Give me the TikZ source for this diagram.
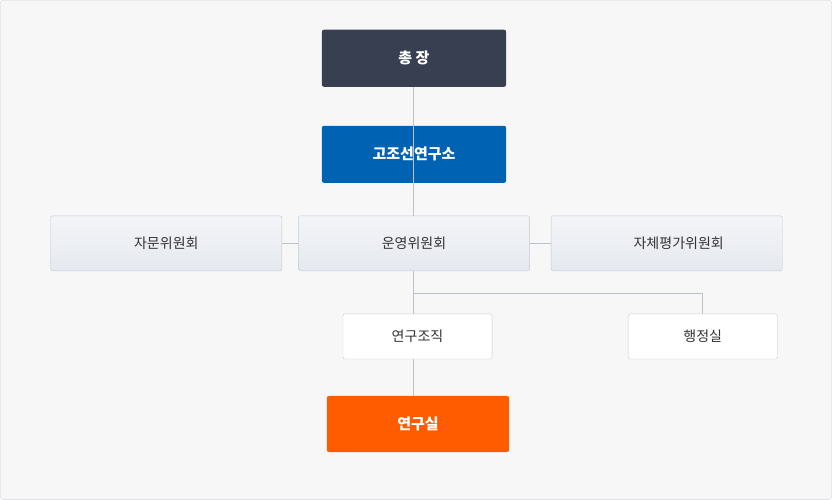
\documentclass[tikz,border=0pt]{standalone}
\usepackage{fontspec}
\setmainfont{Noto Sans CJK KR}
\usetikzlibrary{positioning}
\definecolor{headdark}{HTML}{373F51}
\definecolor{instblue}{HTML}{0062B2}
\definecolor{laborange}{HTML}{FF5C00}
\definecolor{boxline}{HTML}{C3C9D3}
\definecolor{linkgray}{HTML}{BCC2CC}
\definecolor{boxtop}{HTML}{F3F5F8}
\definecolor{boxbot}{HTML}{E5E8EE}
\definecolor{txtdark}{HTML}{333333}
\tikzset{
  topbox/.style={rounded corners=2pt, minimum width=184pt, minimum height=57pt, text=white, font=\bfseries\fontsize{15}{17}\selectfont},
  cmtbox/.style={draw=boxline, rounded corners=2pt, top color=boxtop, bottom color=boxbot, minimum width=231pt, minimum height=55pt, text=txtdark, font=\fontsize{14}{16}\selectfont},
  subbox/.style={draw=boxline, fill=white, rounded corners=2pt, minimum width=149pt, minimum height=45pt, text=txtdark, font=\fontsize{14}{16}\selectfont},
  link/.style={draw=linkgray, line width=0.8pt}
}
\begin{document}
\begin{tikzpicture}[x=1pt, y=-1pt]
  % background panel
  \draw[draw=linkgray!70, fill=gray!6, rounded corners=3pt] (0.5,0.5) rectangle (831.5,499.5);

  % top levels
  \node[topbox, fill=headdark] (head) at (414,58.5) {총 장};
  \node[topbox, fill=instblue] (inst) at (414,154.5) {고조선연구소};

  % committees
  \node[cmtbox] (advise) at (166.5,243.5) {자문위원회};
  \node[cmtbox] (manage) at (414,243.5) {운영위원회};
  \node[cmtbox] (selfeval) at (666.5,243.5) {\hspace*{24pt}자체평가위원회};

  % sub units
  \node[subbox] (research) at (417.5,336.5) {연구조직};
  \node[subbox] (admin) at (702.5,336.5) {행정실};
  \node[topbox, fill=laborange, minimum width=182pt, minimum height=56pt] (lab) at (418,424) {연구실};

  % connections
  \coordinate (spine) at (413,293);
  \draw[link] (head.south -| spine) -- (inst.south -| spine);
  \draw[link] (inst.south -| spine) -- (manage.north -| spine);
  \draw[link] (advise.east) -- (manage.west);
  \draw[link] (manage.east) -- (selfeval.west);
  \draw[link] (manage.south -| spine) -- (research.north -| spine);
  \draw[link] (research.south -| spine) -- (lab.north -| spine);
  \draw[link] (spine) -| (admin.north);
\end{tikzpicture}
\end{document}
